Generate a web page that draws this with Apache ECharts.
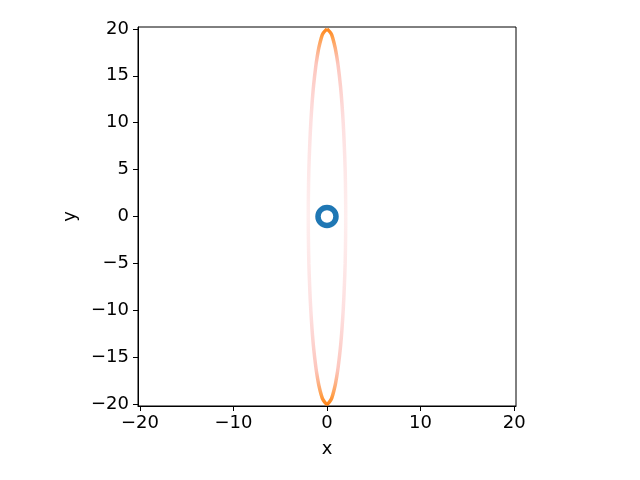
<!DOCTYPE html>
<html>
<head>
<meta charset="utf-8">
<script src="https://cdn.jsdelivr.net/npm/echarts@6/dist/echarts.min.js"></script>
<style>html,body{margin:0;padding:0;background:#fff}#c{width:640px;height:480px}</style>
</head>
<body>
<div id="c"></div>
<script>
// Right half of the orange loop (top to bottom)
const loopY = [20, 19.5, 19, 18, 17, 16, 14, 12, 10, 8, 5, 2, 0, -2, -5, -8, -10, -12, -14, -16, -17, -18, -19, -19.5, -20];
const loopX = [0, 0.44, 0.62, 0.87, 1.05, 1.2, 1.43, 1.6, 1.73, 1.83, 1.94, 1.99, 2.0, 1.99, 1.94, 1.83, 1.73, 1.6, 1.43, 1.2, 1.05, 0.87, 0.62, 0.44, 0];
// Blue ring point
const ringX = [0];
const ringY = [0];
// Tick labels
const xTicks = [-20, -10, 0, 10, 20];
const yTicks = [-20, -15, -10, -5, 0, 5, 10, 15, 20];

const loopData = [];
for (let i = 0; i < loopY.length; i++) loopData.push([loopX[i], loopY[i]]);
for (let i = loopY.length - 2; i >= 0; i--) loopData.push([-loopX[i], loopY[i]]);

const fmt = v => String(v).replace('-', '\u2212');
const font = 'DejaVu Sans';

const chart = echarts.init(document.getElementById('c'), null, {renderer: 'canvas'});
chart.setOption({
  animation: false,
  backgroundColor: '#fff',
  grid: {left: 138, right: 124, top: 27, bottom: 74, show: true, borderColor: '#000', borderWidth: 1, backgroundColor: 'transparent'},
  xAxis: {
    type: 'value', min: -20.2, max: 20.2,
    name: 'x', nameLocation: 'middle', nameGap: 34,
    nameTextStyle: {fontFamily: font, fontSize: 18, color: '#000'},
    axisLine: {show: true, onZero: false, lineStyle: {color: '#000', width: 1}},
    axisTick: {show: true, length: 5, customValues: xTicks, lineStyle: {color: '#000'}},
    axisLabel: {customValues: xTicks, formatter: fmt, fontFamily: font, fontSize: 18, color: '#000', margin: 8},
    splitLine: {show: false}
  },
  yAxis: {
    type: 'value', min: -20.2, max: 20.2,
    name: 'y', nameLocation: 'middle', nameGap: 59, nameRotate: 90,
    nameTextStyle: {fontFamily: font, fontSize: 18, color: '#000'},
    axisLine: {show: true, onZero: false, lineStyle: {color: '#000', width: 1}},
    axisTick: {show: true, length: 5, customValues: yTicks, lineStyle: {color: '#000'}},
    axisLabel: {customValues: yTicks, formatter: fmt, fontFamily: font, fontSize: 18, color: '#000', margin: 9},
    splitLine: {show: false}
  },
  series: [
    {
      type: 'line', data: loopData, smooth: 0.3, showSymbol: false, z: 2,
      lineStyle: {
        width: 3.5,
        color: new echarts.graphic.LinearGradient(0, 0, 0, 1, [
          {offset: 0, color: 'rgba(255,127,14,1)'},
          {offset: 0.03, color: 'rgba(255,127,14,0.75)'},
          {offset: 0.1, color: 'rgba(250,130,110,0.45)'},
          {offset: 0.25, color: 'rgba(250,150,150,0.3)'},
          {offset: 0.5, color: 'rgba(250,170,170,0.2)'},
          {offset: 0.75, color: 'rgba(250,150,150,0.3)'},
          {offset: 0.9, color: 'rgba(250,130,110,0.45)'},
          {offset: 0.97, color: 'rgba(255,127,14,0.75)'},
          {offset: 1, color: 'rgba(255,127,14,1)'}
        ])
      }
    },
    {
      type: 'scatter', data: ringX.map((x, i) => [x, ringY[i]]), z: 3,
      symbol: 'circle', symbolSize: 18,
      itemStyle: {color: '#fff', borderColor: '#1f77b4', borderWidth: 5.5, opacity: 1}
    }
  ]
});
</script>
</body>
</html>
